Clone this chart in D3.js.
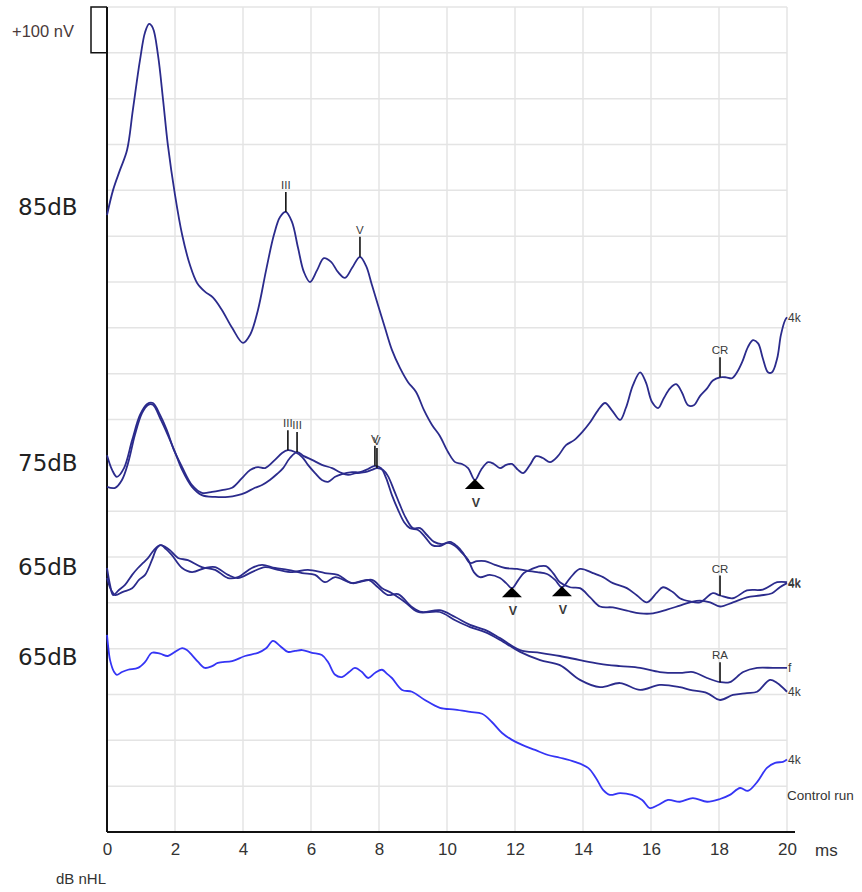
<!DOCTYPE html>
<html><head><meta charset="utf-8">
<script src="https://cdn.jsdelivr.net/npm/d3@7"></script>
<style>
body{margin:0;background:#fff}
svg{display:block}
</style></head><body>
<svg id="chart" width="862" height="892"></svg>
<script>
// ABR waveforms: [latency ms, amplitude nV] relative to each trace's level offset
const trace85 = [[0,-4],[0.18,51],[0.38,94],[0.59,138],[0.76,225],[0.97,334],[1.12,395],[1.24,413],[1.35,404],[1.5,345],[1.65,247],[1.79,149],[2.0,40],[2.21,-47],[2.44,-113],[2.65,-152],[2.88,-171],[3.12,-184],[3.38,-211],[3.68,-250],[4.0,-283],[4.21,-265],[4.44,-211],[4.68,-124],[4.91,-47],[5.09,-8],[5.26,3],[5.44,-19],[5.62,-76],[5.79,-128],[5.97,-150],[6.18,-124],[6.38,-98],[6.59,-106],[6.79,-128],[7.0,-141],[7.21,-119],[7.44,-95],[7.62,-115],[7.79,-156],[7.97,-200],[8.18,-251],[8.38,-298],[8.62,-338],[8.85,-368],[9.09,-390],[9.32,-429],[9.56,-462],[9.79,-486],[10.03,-521],[10.24,-543],[10.44,-547],[10.62,-556],[10.82,-582],[11.0,-560],[11.21,-543],[11.38,-547],[11.56,-556],[11.74,-549],[11.91,-547],[12.09,-560],[12.24,-567],[12.44,-549],[12.62,-530],[12.82,-534],[13.03,-543],[13.26,-530],[13.5,-506],[13.74,-495],[13.97,-478],[14.21,-456],[14.44,-430],[14.65,-414],[14.85,-430],[15.09,-451],[15.26,-425],[15.47,-375],[15.68,-347],[15.85,-369],[16.03,-412],[16.21,-425],[16.38,-403],[16.56,-382],[16.74,-373],[16.91,-391],[17.09,-419],[17.26,-419],[17.44,-399],[17.65,-382],[17.82,-365],[18.03,-358],[18.21,-358],[18.38,-360],[18.53,-347],[18.68,-325],[18.85,-292],[19.0,-277],[19.15,-284],[19.29,-317],[19.44,-347],[19.56,-347],[19.71,-317],[19.82,-266],[19.94,-234],[20.0,-227]];

const trace75a = [[0,22],[0.15,-10],[0.29,-25],[0.5,-6],[0.74,55],[0.97,110],[1.18,134],[1.35,136],[1.56,110],[1.76,77],[1.97,33],[2.21,-4],[2.5,-43],[2.79,-60],[3.09,-58],[3.38,-54],[3.68,-49],[3.97,-28],[4.21,-10],[4.44,-4],[4.65,-6],[4.94,12],[5.15,27],[5.32,33],[5.53,29],[5.74,18],[5.91,1],[6.12,-17],[6.32,-32],[6.5,-36],[6.71,-25],[6.91,-19],[7.21,-15],[7.44,-15],[7.68,-8],[7.88,-1],[8.06,-6],[8.21,-28],[8.38,-65],[8.56,-97],[8.74,-124],[8.91,-137],[9.15,-141],[9.35,-156],[9.56,-174],[9.79,-176],[10.03,-169],[10.24,-176],[10.44,-191],[10.62,-206],[10.79,-233],[10.97,-244],[11.26,-239],[11.56,-246],[11.74,-257],[11.91,-268],[12.09,-251],[12.26,-235],[12.5,-226],[12.74,-220],[12.91,-220],[13.12,-235],[13.32,-255],[13.62,-266],[13.91,-268],[14.21,-288],[14.5,-308],[14.88,-310],[15.29,-317],[15.68,-323],[16.06,-323],[16.47,-315],[16.85,-306],[17.15,-299],[17.44,-295],[17.74,-299],[18.03,-308],[18.41,-299],[18.82,-288],[19.21,-284],[19.56,-279],[19.79,-266],[20,-257]];

const trace75b = [[0,-47],[0.24,-49],[0.44,-32],[0.62,5],[0.82,66],[1.03,114],[1.21,132],[1.35,132],[1.56,103],[1.79,66],[2.0,29],[2.21,-10],[2.5,-47],[2.79,-65],[3.18,-69],[3.56,-69],[3.85,-65],[4.06,-60],[4.35,-49],[4.56,-43],[4.79,-32],[5.0,-19],[5.18,-6],[5.38,16],[5.59,29],[5.79,20],[6.03,12],[6.32,1],[6.62,-6],[6.85,-15],[7.09,-21],[7.32,-17],[7.59,-15],[7.79,-10],[7.94,-6],[8.12,-10],[8.26,-23],[8.44,-54],[8.62,-87],[8.79,-115],[9.0,-137],[9.21,-137],[9.41,-152],[9.62,-167],[9.85,-172],[10.09,-167],[10.29,-176],[10.47,-191],[10.68,-213],[10.88,-209],[11.12,-209],[11.41,-217],[11.71,-224],[12.06,-226],[12.35,-230],[12.65,-233],[12.94,-237],[13.18,-250],[13.38,-266],[13.62,-246],[13.91,-226],[14.29,-235],[14.59,-244],[14.88,-257],[15.29,-268],[15.59,-284],[15.88,-299],[16.18,-277],[16.35,-266],[16.65,-277],[16.85,-290],[17.15,-297],[17.44,-299],[17.82,-279],[18.03,-284],[18.41,-290],[18.82,-273],[19.29,-271],[19.71,-255],[20,-255]];

const trace65a = [[0,-4],[0.09,-41],[0.18,-63],[0.35,-52],[0.53,-41],[0.74,-19],[0.91,-4],[1.06,7],[1.21,18],[1.38,35],[1.56,46],[1.71,42],[1.85,35],[2.09,18],[2.38,13],[2.79,-2],[3.18,-8],[3.56,-26],[3.85,-24],[4.26,-4],[4.56,3],[4.94,-4],[5.32,-8],[5.74,-15],[6.12,-19],[6.41,-35],[6.71,-24],[7.21,-37],[7.68,-30],[7.97,-46],[8.26,-63],[8.56,-61],[8.97,-89],[9.26,-100],[9.79,-96],[10.24,-111],[10.68,-128],[11.12,-139],[11.56,-157],[12.15,-183],[12.74,-189],[13.32,-196],[13.91,-205],[14.5,-213],[15.09,-218],[15.68,-222],[16.26,-231],[16.85,-233],[17.24,-231],[17.65,-244],[18.03,-253],[18.32,-253],[18.71,-231],[19.12,-222],[19.59,-222],[20,-222]];

const trace65b = [[0,-26],[0.12,-52],[0.24,-63],[0.47,-56],[0.74,-48],[0.94,-30],[1.12,-19],[1.32,13],[1.47,40],[1.59,46],[1.74,37],[1.91,24],[2.21,-4],[2.5,-13],[2.88,-4],[3.18,-2],[3.56,-19],[3.85,-26],[4.26,-13],[4.65,-2],[5.03,-8],[5.44,-13],[5.91,-8],[6.41,-15],[6.79,-19],[7.21,-37],[7.79,-30],[8.09,-48],[8.38,-59],[8.76,-78],[9.15,-100],[9.79,-100],[10.24,-118],[10.68,-133],[11.12,-144],[11.56,-161],[12.15,-187],[12.74,-205],[13.32,-216],[13.91,-248],[14.5,-264],[15.09,-255],[15.68,-270],[16.26,-259],[16.85,-264],[17.15,-270],[17.65,-277],[18.03,-292],[18.41,-281],[18.82,-277],[19.12,-274],[19.5,-248],[19.71,-255],[20,-274]];

const traceControl = [[0,50],[0.03,28],[0.09,-5],[0.21,-31],[0.29,-37],[0.44,-31],[0.62,-26],[0.91,-22],[1.12,-9],[1.32,11],[1.56,9],[1.79,4],[2.0,13],[2.21,21],[2.35,17],[2.5,6],[2.68,-9],[2.88,-22],[3.09,-18],[3.26,-11],[3.68,-7],[4.06,4],[4.44,11],[4.68,21],[4.88,37],[5.09,26],[5.32,13],[5.53,15],[5.74,17],[6.03,11],[6.32,6],[6.5,-9],[6.71,-37],[6.91,-42],[7.12,-31],[7.29,-22],[7.5,-31],[7.68,-44],[7.88,-33],[8.09,-26],[8.24,-35],[8.38,-44],[8.68,-70],[8.97,-74],[9.35,-92],[9.79,-109],[10.24,-113],[10.68,-118],[11.03,-122],[11.32,-140],[11.62,-164],[11.91,-179],[12.21,-190],[12.59,-201],[12.97,-212],[13.32,-218],[13.76,-227],[14.15,-240],[14.38,-262],[14.59,-288],[14.79,-299],[15.09,-295],[15.44,-299],[15.74,-310],[15.97,-328],[16.21,-321],[16.5,-310],[16.85,-314],[17.23,-306],[17.65,-314],[18.03,-308],[18.32,-299],[18.62,-284],[18.85,-290],[19.12,-271],[19.41,-240],[19.65,-229],[19.88,-227],[20,-222]];

// stimulus levels and their vertical placement (nV on the stacked scale)
const levelLabels = ["85dB", "75dB", "65dB", "65dB"];
const levelLabelPos = [1365, 805, 578, 382];
const traceKeys = ["85", "75a", "75b", "65a", "65b", "ctl"];
const traceOffsets = [1350, 800, 800, 580, 580, 380];
const traceEndLabels = ["4k", "4k", "4k", "f", "4k", "4k"];

// labelled peaks (tick above the wave) and troughs (filled triangle)
const peakTrace = ["85", "85", "85", "75a", "75b", "75a", "75b", "75b", "65a"];
const peakMs = [5.26, 7.44, 18.03, 5.32, 5.59, 7.88, 7.94, 18.03, 18.03];
const peakLabel = ["III", "V", "CR", "III", "III", "V", "V", "CR", "RA"];
const troughTrace = ["85", "75a", "75b"];
const troughMs = [10.82, 11.91, 13.38];
const troughLabel = ["V", "V", "V"];

const xTicks = [0, 2, 4, 6, 8, 10, 12, 14, 16, 18, 20];
const gridLevels = d3.range(100, 1801, 100);
const scaleBarNv = 100;

const traceData = {"85": trace85, "75a": trace75a, "75b": trace75b, "65a": trace65a, "65b": trace65b, "ctl": traceControl};

const svg = d3.select("#chart");
const x = d3.scaleLinear().domain([0, 20]).range([107, 787]);
const y = d3.scaleLinear().domain([0, 1800]).range([832, 7]);

const navy = "#2b2b8c";
const ctlBlue = "#3535f5";
const narrow = "'Liberation Sans Narrow','Arial Narrow','Liberation Sans',sans-serif";
const sans = "'Liberation Sans',Arial,sans-serif";

// grid
const grid = svg.append("g").attr("stroke", "#e4e4e4").attr("stroke-width", 1.5);
grid.selectAll("line.v").data(xTicks.slice(1)).join("line")
  .attr("x1", d => x(d)).attr("x2", d => x(d)).attr("y1", y(0)).attr("y2", y(1800));
grid.selectAll("line.h").data(gridLevels).join("line")
  .attr("x1", x(0)).attr("x2", x(20)).attr("y1", d => y(d)).attr("y2", d => y(d));

// axes
svg.append("line").attr("x1", x(0)).attr("x2", x(20) + 8).attr("y1", y(0)).attr("y2", y(0))
  .attr("stroke", "#111").attr("stroke-width", 2);
svg.append("line").attr("x1", x(0)).attr("x2", x(0)).attr("y1", y(1800)).attr("y2", y(0))
  .attr("stroke", "#111").attr("stroke-width", 2);

const xAxis = svg.append("g").attr("transform", `translate(0,${y(0)})`)
  .call(d3.axisBottom(x).tickValues(xTicks).tickSize(0).tickPadding(11).tickFormat(d3.format("d")));
xAxis.select(".domain").remove();
xAxis.selectAll("text").attr("font-family", narrow).attr("font-size", 17).attr("fill", "#333");

svg.append("text").attr("x", x(20) + 28).attr("y", y(0) + 24).text("ms")
  .attr("font-family", narrow).attr("font-size", 17).attr("fill", "#333");
svg.append("text").attr("x", 56).attr("y", y(0) + 52).text("dB nHL")
  .attr("font-family", narrow).attr("font-size", 15).attr("fill", "#333");

// amplitude scale bar
const sbTop = y(1800), sbBot = y(1800 - scaleBarNv);
svg.append("path")
  .attr("d", `M${x(0)},${sbTop}H${x(0) - 16}V${sbBot}H${x(0)}`)
  .attr("fill", "none").attr("stroke", "#111").attr("stroke-width", 1.5);
svg.append("text").attr("x", 12).attr("y", (sbTop + sbBot) / 2 + 1).attr("dy", "0.35em")
  .text("+100 nV").attr("font-family", narrow)
  .attr("font-size", 16.5).attr("fill", "#4a3a3a");

// level labels
svg.selectAll("text.level").data(levelLabels).join("text")
  .attr("x", 18).attr("y", (d, i) => y(levelLabelPos[i])).attr("dy", "0.36em")
  .text(d => d).attr("font-family", "'DejaVu Sans',sans-serif").attr("font-size", 23)
  .attr("fill", "#222");

// waveforms
const line = (offset) => d3.line()
  .x(d => x(d[0])).y(d => y(offset + d[1]))
  .curve(d3.curveCatmullRom.alpha(0.5));

traceKeys.forEach((k, i) => {
  svg.append("path").datum(traceData[k])
    .attr("d", line(traceOffsets[i]))
    .attr("fill", "none")
    .attr("stroke", k === "ctl" ? ctlBlue : navy)
    .attr("stroke-width", 1.8)
    .attr("stroke-linejoin", "round");
});

// amplitude of a trace at a given latency
function ampAt(key, ms) {
  const data = traceData[key];
  const i = d3.bisector(d => d[0]).left(data, ms);
  if (i <= 0) return data[0][1];
  if (i >= data.length) return data[data.length - 1][1];
  const a = data[i - 1], b = data[i];
  const t = (ms - a[0]) / (b[0] - a[0]);
  return a[1] + t * (b[1] - a[1]);
}
const offsetOf = key => traceOffsets[traceKeys.indexOf(key)];

// peak markers
peakMs.forEach((ms, i) => {
  const key = peakTrace[i];
  const px = x(ms), py = y(offsetOf(key) + ampAt(key, ms));
  svg.append("line").attr("x1", px).attr("x2", px).attr("y1", py).attr("y2", py - 20)
    .attr("stroke", "#111").attr("stroke-width", 1.6);
  svg.append("text").attr("x", px).attr("y", py - 23).attr("text-anchor", "middle")
    .text(peakLabel[i]).attr("font-family", sans)
    .attr("font-size", 11.5).attr("fill", "#3a3a3a");
});

// trough markers
troughMs.forEach((ms, i) => {
  const key = troughTrace[i];
  const px = x(ms), py = y(offsetOf(key) + ampAt(key, ms));
  svg.append("path").attr("d", `M${px},${py - 1}L${px - 10},${py + 9}L${px + 10},${py + 9}Z`)
    .attr("fill", "#000");
  svg.append("text").attr("x", px + 1).attr("y", py + 27).attr("text-anchor", "middle")
    .text(troughLabel[i]).attr("font-family", sans)
    .attr("font-size", 12.5).attr("font-weight", "bold").attr("fill", "#3a3a3a");
});

// end-of-trace labels
traceKeys.forEach((k, i) => {
  const d = traceData[k];
  const last = d[d.length - 1];
  svg.append("text").attr("x", x(last[0]) + 1).attr("y", y(traceOffsets[i] + last[1])).attr("dy", "0.38em")
    .text(traceEndLabels[i]).attr("font-family", sans)
    .attr("font-size", 12).attr("fill", "#3a3a3a");
});
svg.append("text").attr("x", x(20)).attr("y", y(380 - 300)).attr("dy", "0.35em")
  .text("Control run").attr("font-family", narrow).attr("font-size", 13.5).attr("fill", "#333");
</script>
</body></html>
